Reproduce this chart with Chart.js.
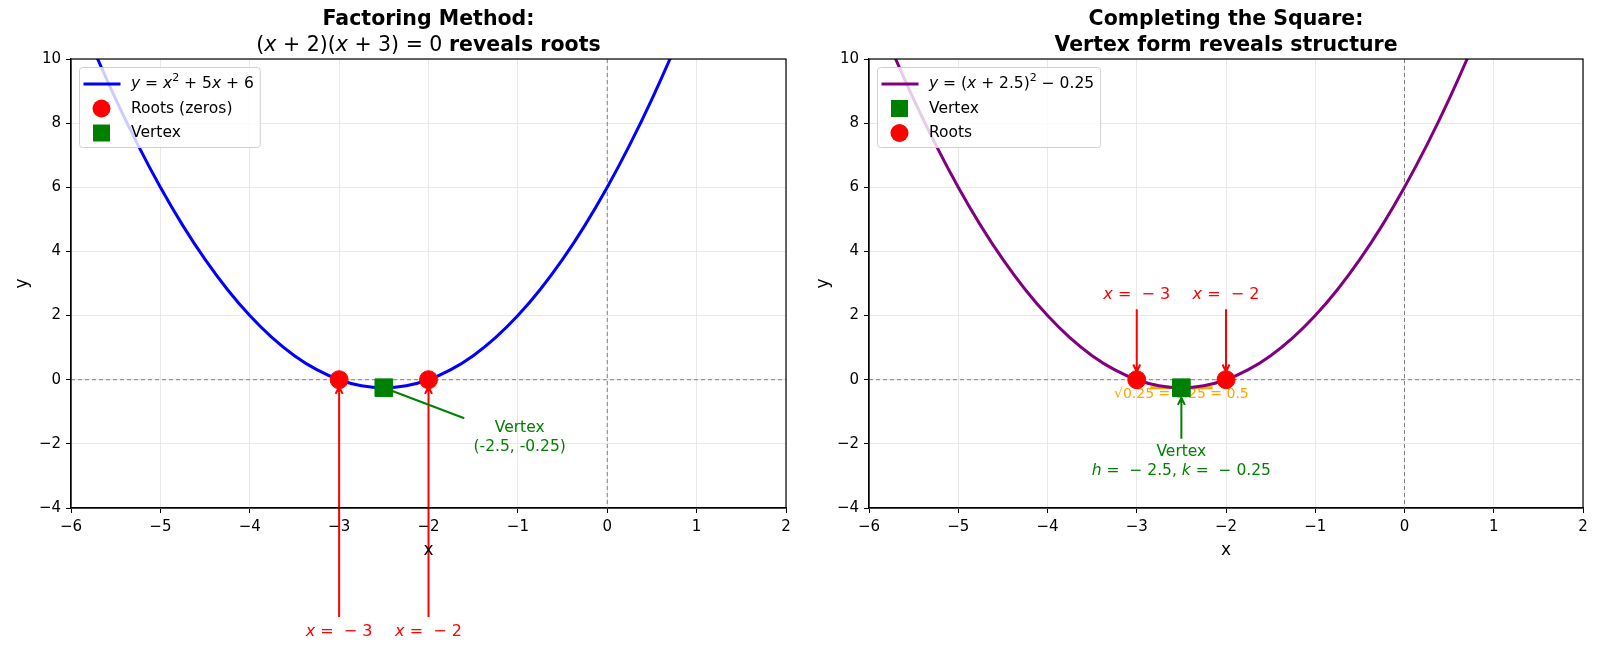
<!DOCTYPE html>
<html>
<head>
<meta charset="utf-8">
<script src="https://cdn.jsdelivr.net/npm/chart.js@4/dist/chart.umd.min.js"></script>
<style>
  body { margin: 0; background: #fff; width: 1600px; height: 652px; overflow: hidden; display: flex; }
  .panel { width: 800px; height: 652px; }
</style>
</head>
<body>
<div class="panel"><canvas id="plot1" width="800" height="652"></canvas></div>
<div class="panel"><canvas id="plot2" width="800" height="652"></canvas></div>
<script>
// curve samples
const xValues = [-6, -5.75, -5.5, -5.25, -5, -4.75, -4.5, -4.25, -4, -3.75, -3.5, -3.25, -3, -2.75, -2.5, -2.25,
  -2, -1.75, -1.5, -1.25, -1, -0.75, -0.5, -0.25, 0, 0.25, 0.5, 0.75, 1];
const yValues = [12, 10.3125, 8.75, 7.3125, 6, 4.8125, 3.75, 2.8125, 2, 1.3125, 0.75, 0.3125, 0, -0.1875, -0.25, -0.1875,
  0, 0.3125, 0.75, 1.3125, 2, 2.8125, 3.75, 4.8125, 6, 7.3125, 8.75, 10.3125, 12];
const rootX = [-3, -2];
const rootY = [0, 0];
const vertexX = [-2.5];
const vertexY = [-0.25];
const xRange = [-6, 2];
const yRange = [-4, 10];

const FONT = '"DejaVu Sans", sans-serif';

// texto con partes en cursiva / negrita / superindice
let fontOf = (r, size) => `${r.i ? 'italic ' : ''}${r.b ? 'bold ' : ''}${r.sup ? Math.round(size * 0.7) : size}px ${FONT}`;
let norm = runs => runs.map(r => typeof r === 'string' ? {t: r} : r);

let runsWidth = (ctx, runs, size) => {
  let w = 0;
  norm(runs).forEach(r => { ctx.font = fontOf(r, size); w += ctx.measureText(r.t).width; });
  return w;
};

let drawRuns = (ctx, runs, x, y, size, color, align) => {
  let w = runsWidth(ctx, runs, size);
  let cx = align === 'left' ? x : x - w / 2;
  ctx.save();
  ctx.fillStyle = color;
  ctx.textBaseline = 'middle';
  ctx.textAlign = 'left';
  norm(runs).forEach(r => {
    ctx.font = fontOf(r, size);
    ctx.fillText(r.t, cx, r.sup ? y - size * 0.38 : y);
    cx += ctx.measureText(r.t).width;
  });
  ctx.restore();
};

let drawArrow = (ctx, x1, y1, x2, y2, color, width, shrink) => {
  let ang = Math.atan2(y2 - y1, x2 - x1);
  x2 -= Math.cos(ang) * shrink;
  y2 -= Math.sin(ang) * shrink;
  ctx.save();
  ctx.strokeStyle = color;
  ctx.lineWidth = width;
  ctx.beginPath();
  ctx.moveTo(x1, y1);
  ctx.lineTo(x2, y2);
  let h = 8;
  ctx.moveTo(x2 - h * Math.cos(ang - 0.45), y2 - h * Math.sin(ang - 0.45));
  ctx.lineTo(x2, y2);
  ctx.lineTo(x2 - h * Math.cos(ang + 0.45), y2 - h * Math.sin(ang + 0.45));
  ctx.stroke();
  ctx.restore();
};

let drawLine = (ctx, x1, y1, x2, y2, color, width, dash) => {
  ctx.save();
  ctx.strokeStyle = color;
  ctx.lineWidth = width;
  ctx.setLineDash(dash || []);
  ctx.beginPath();
  ctx.moveTo(x1, y1);
  ctx.lineTo(x2, y2);
  ctx.stroke();
  ctx.restore();
};

let crearGrafico = (id, cfg) => {
  let px = (chart, x, y) => [chart.scales.x.getPixelForValue(x), chart.scales.y.getPixelForValue(y)];

  let extras = {
    id: 'extras' + id,
    beforeDatasetsDraw(chart) {
      let ctx = chart.ctx, a = chart.chartArea;
      // lineas de referencia y = 0 y x = 0
      let [x0, y0] = px(chart, 0, 0);
      drawLine(ctx, a.left, y0, a.right, y0, '#7f7f7f', 1, [4, 3]);
      drawLine(ctx, x0, a.top, x0, a.bottom, '#7f7f7f', 1, [4, 3]);
      cfg.under(chart, ctx, px);
    },
    afterDraw(chart) {
      let ctx = chart.ctx, a = chart.chartArea;
      // marco completo
      ctx.save();
      ctx.strokeStyle = '#000';
      ctx.lineWidth = 1.2;
      ctx.strokeRect(a.left, a.top, a.right - a.left, a.bottom - a.top);
      ctx.restore();
      let mid = (a.left + a.right) / 2;
      // titulo
      drawRuns(ctx, cfg.title[0], mid, 20, 20.5, '#000');
      drawRuns(ctx, cfg.title[1], mid, 46, 20.5, '#000');
      // ejes
      drawRuns(ctx, ['x'], mid, 551, 17, '#000');
      ctx.save();
      ctx.translate(cfg.yLabelX, (a.top + a.bottom) / 2);
      ctx.rotate(-Math.PI / 2);
      drawRuns(ctx, ['y'], 0, 0, 17, '#000');
      ctx.restore();
      // leyenda
      let lx = a.left + 8.5, ly = a.top + 8.5;
      let w = 0;
      cfg.legend.forEach(it => { w = Math.max(w, runsWidth(ctx, it.text, 15.5)); });
      let bw = w + 58, bh = 80;
      ctx.save();
      ctx.fillStyle = 'rgba(255,255,255,0.8)';
      ctx.strokeStyle = '#d0d0d0';
      ctx.lineWidth = 1;
      ctx.beginPath();
      ctx.roundRect(lx, ly, bw, bh, 3);
      ctx.fill();
      ctx.stroke();
      ctx.restore();
      cfg.legend.forEach((it, k) => {
        let yy = ly + 16.5 + k * 24.5;
        let hx = lx + 22;
        ctx.save();
        if (it.kind === 'line') {
          drawLine(ctx, lx + 4, yy, lx + 41, yy, it.color, 3);
        } else if (it.kind === 'circle') {
          ctx.fillStyle = it.color;
          ctx.beginPath();
          ctx.arc(hx, yy, 9, 0, Math.PI * 2);
          ctx.fill();
        } else {
          ctx.fillStyle = it.color;
          ctx.fillRect(hx - 8.5, yy - 8.5, 17, 17);
        }
        ctx.restore();
        drawRuns(ctx, it.text, lx + 51.5, yy, 15.5, '#000', 'left');
      });
    }
  };

  let tickLabel = v => String(v).replace('-', '\u2212');

  let config = {
    type: 'line',
    data: {
      datasets: [
        {
          label: 'curve',
          data: xValues.map((x, k) => ({x: x, y: yValues[k]})),
          borderColor: cfg.color,
          borderWidth: 3,
          pointRadius: 0,
          cubicInterpolationMode: 'monotone',
          fill: false,
          order: 3
        },
        {
          label: 'Roots',
          data: rootX.map((x, k) => ({x: x, y: rootY[k]})),
          showLine: false,
          pointStyle: 'circle',
          pointRadius: 9,
          backgroundColor: '#ff0000',
          borderColor: '#ff0000',
          order: 1
        },
        {
          label: 'Vertex',
          data: vertexX.map((x, k) => ({x: x, y: vertexY[k]})),
          showLine: false,
          pointStyle: 'rect',
          pointRadius: 12.5,
          backgroundColor: '#008000',
          borderColor: '#008000',
          order: 2
        }
      ]
    },
    options: {
      responsive: false,
      animation: false,
      layout: {padding: {left: 0, top: 59, right: cfg.padRight, bottom: 114}},
      plugins: {legend: {display: false}, tooltip: {enabled: false}},
      scales: {
        x: {
          type: 'linear', min: xRange[0], max: xRange[1],
          ticks: {stepSize: 1, color: '#000', font: {family: FONT, size: 15}, padding: 5, callback: tickLabel, maxRotation: 0},
          grid: {color: '#e8e8e8', tickColor: '#000', tickLength: 5},
          border: {color: '#000', width: 1.2},
          afterFit: s => { s.height = 30; }
        },
        y: {
          type: 'linear', min: yRange[0], max: yRange[1],
          ticks: {stepSize: 2, color: '#000', font: {family: FONT, size: 15}, padding: 5, callback: tickLabel},
          grid: {color: '#e8e8e8', tickColor: '#000', tickLength: 5},
          border: {color: '#000', width: 1.2},
          afterFit: s => { s.width = cfg.yWidth; }
        }
      }
    },
    plugins: [extras]
  };
  return new Chart(document.getElementById(id), config);
};

let etiquetaRaiz = r => [{t: 'x', i: true}, ' =  \u2212 ' + Math.abs(r)];

// Grafico 1: factorizacion
crearGrafico('plot1', {
  color: '#0000ff',
  yWidth: 71, padRight: 14, yLabelX: 23,
  title: [[{t: 'Factoring Method:', b: true}],
    ['(', {t: 'x', i: true}, ' + 2)(', {t: 'x', i: true}, ' + 3) = 0 ', {t: 'reveals roots', b: true}]],
  legend: [
    {kind: 'line', color: '#0000ff', text: [{t: 'y', i: true}, ' = ', {t: 'x', i: true}, {t: '2', sup: true}, ' + 5', {t: 'x', i: true}, ' + 6']},
    {kind: 'circle', color: '#ff0000', text: ['Roots (zeros)']},
    {kind: 'rect', color: '#008000', text: ['Vertex']}
  ],
  under(chart, ctx, px) {
    rootX.forEach((r, k) => {
      let [ax, ay] = px(chart, r, -7.4);
      let [bx, by] = px(chart, r, rootY[k]);
      drawArrow(ctx, ax, ay, bx, by, '#ff0000', 2, 7);
      let [tx, ty] = px(chart, r, -7.85);
      drawRuns(ctx, etiquetaRaiz(r), tx, ty, 16, '#ff0000');
    });
    let [lx1, ly1] = px(chart, -1.6, -1.2);
    let [lx2, ly2] = px(chart, vertexX[0], vertexY[0]);
    drawLine(ctx, lx1, ly1, lx2, ly2, '#008000', 2);
    let [vx, vy] = px(chart, -0.98, -1.49);
    drawRuns(ctx, ['Vertex'], vx, vy, 15.5, '#008000');
    let [vx2, vy2] = px(chart, -0.98, -2.1);
    drawRuns(ctx, ['(-2.5, -0.25)'], vx2, vy2, 15.5, '#008000');
  }
});

// Grafico 2: completar el cuadrado
crearGrafico('plot2', {
  color: '#800080',
  yWidth: 69, padRight: 17, yLabelX: 24,
  title: [[{t: 'Completing the Square:', b: true}], [{t: 'Vertex form reveals structure', b: true}]],
  legend: [
    {kind: 'line', color: '#800080', text: [{t: 'y', i: true}, ' = (', {t: 'x', i: true}, ' + 2.5)', {t: '2', sup: true}, ' \u2212 0.25']},
    {kind: 'rect', color: '#008000', text: ['Vertex']},
    {kind: 'circle', color: '#ff0000', text: ['Roots']}
  ],
  under(chart, ctx, px) {
    rootX.forEach((r, k) => {
      let [ax, ay] = px(chart, r, 2.2);
      let [bx, by] = px(chart, r, rootY[k]);
      drawArrow(ctx, ax, ay, bx, by, '#ff0000', 2, 8);
      let [tx, ty] = px(chart, r, 2.64);
      drawRuns(ctx, etiquetaRaiz(r), tx, ty, 16, '#ff0000');
    });
    let [ox1, oy1] = px(chart, -2.85, -0.25);
    let [ox2, oy2] = px(chart, -2.15, -0.25);
    drawLine(ctx, ox1, oy1, ox2, oy2, '#ffa500', 3);
    let [ox, oy] = px(chart, -2.5, -0.47);
    drawRuns(ctx, ['\u221A0.25 = 0.25 = 0.5'], ox, oy, 14, '#ffa500');
    let [ax, ay] = px(chart, vertexX[0], -1.84);
    let [bx, by] = px(chart, vertexX[0], vertexY[0]);
    drawArrow(ctx, ax, ay, bx, by, '#008000', 2, 10);
    let [vx, vy] = px(chart, -2.5, -2.25);
    drawRuns(ctx, ['Vertex'], vx, vy, 15.5, '#008000');
    let [vx2, vy2] = px(chart, -2.5, -2.86);
    drawRuns(ctx, [{t: 'h', i: true}, ' =  \u2212 2.5, ', {t: 'k', i: true}, ' =  \u2212 0.25'], vx2, vy2, 15.5, '#008000');
  }
});
</script>
</body>
</html>
